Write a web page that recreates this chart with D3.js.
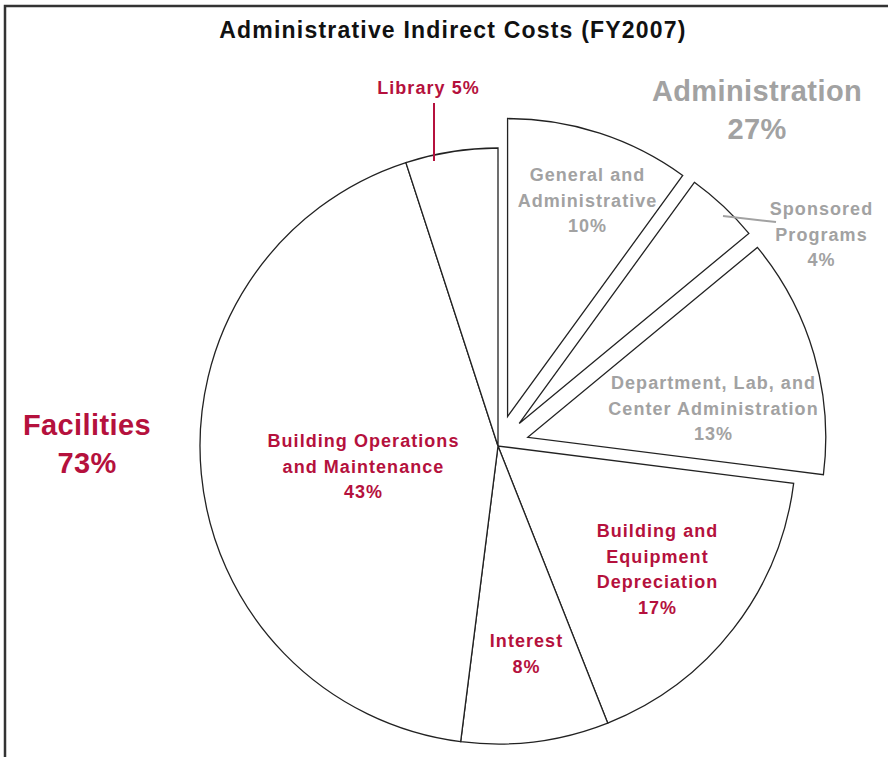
<!DOCTYPE html>
<html>
<head>
<meta charset="utf-8">
<script src="https://cdn.jsdelivr.net/npm/d3@7"></script>
<style>
  body { margin: 0; background: #fff; }
  text { font-family: "Liberation Sans", Arial, Helvetica, sans-serif; font-weight: bold; }
</style>
</head>
<body>
<script>
// slices, clockwise from 12 o'clock
var names = ["General and Administrative", "Sponsored Programs", "Department, Lab, and Center Administration",
             "Building and Equipment Depreciation", "Interest", "Building Operations and Maintenance", "Library"];
var values = [10, 4, 13, 17, 8, 43, 5];
var groups = ["admin", "admin", "admin", "fac", "fac", "fac", "fac"];
// label lines for each slice
var labelLines = [
  ["General and", "Administrative", "10%"],
  ["Sponsored", "Programs", "4%"],
  ["Department, Lab, and", "Center Administration", "13%"],
  ["Building and", "Equipment", "Depreciation", "17%"],
  ["Interest", "8%"],
  ["Building Operations", "and Maintenance", "43%"],
  ["Library 5%"]
];
var groupTitles = [["Administration", "27%"], ["Facilities", "73%"]];

// layout
var width = 888, height = 757;
var cx = 498, cy = 446, radius = 298;
var explode = 31;
var red = "#b5113d", gray = "#a2a2a2";
// label anchor (x, first baseline y) per slice
var labelPos = [[587, 181], [821, 215], [713, 389], [657, 537], [526, 647], [363, 447], [428, 94]];
var groupPos = [[757, 101], [87, 435]];
var groupColor = { admin: gray, fac: red };

var svg = d3.select("body").append("svg")
  .attr("width", width)
  .attr("height", height);

// frame
svg.append("path")
  .attr("d", "M5,757 L5,6 L888,6")
  .attr("fill", "none")
  .attr("stroke", "#333")
  .attr("stroke-width", 2.5);

svg.append("text")
  .attr("x", 453).attr("y", 38)
  .attr("text-anchor", "middle")
  .attr("font-size", 23)
  .attr("letter-spacing", 1.2)
  .attr("fill", "#111")
  .text("Administrative Indirect Costs (FY2007)");

var pie = d3.pie().sort(null).value(function(d) { return d; });
var arcs = pie(values);
var arc = d3.arc().innerRadius(0).outerRadius(radius);

var g = svg.append("g").attr("transform", "translate(" + cx + "," + cy + ")");

g.selectAll("path.slice")
  .data(arcs)
  .enter().append("path")
  .attr("class", "slice")
  .attr("d", arc)
  .attr("fill", "#fff")
  .attr("stroke", "#222")
  .attr("stroke-width", 1.3)
  .attr("transform", function(d, i) {
    if (groups[i] != "admin") return null;
    var a = (d.startAngle + d.endAngle) / 2;
    return "translate(" + (Math.sin(a) * explode) + "," + (-Math.cos(a) * explode) + ")";
  });

// leader lines
svg.append("line")
  .attr("x1", 434).attr("y1", 103).attr("x2", 434).attr("y2", 161)
  .attr("stroke", red).attr("stroke-width", 2);
svg.append("line")
  .attr("x1", 723).attr("y1", 216).attr("x2", 776).attr("y2", 222)
  .attr("stroke", gray).attr("stroke-width", 2);

// slice labels
labelLines.forEach(function(lines, i) {
  var t = svg.append("text")
    .attr("text-anchor", "middle")
    .attr("font-size", 18)
    .attr("letter-spacing", 1.05)
    .attr("fill", groupColor[groups[i]]);
  lines.forEach(function(s, j) {
    t.append("tspan")
      .attr("x", labelPos[i][0] + 0.5)
      .attr("y", labelPos[i][1] + j * 25.5)
      .text(s);
  });
});

// group labels
groupTitles.forEach(function(lines, i) {
  var t = svg.append("text")
    .attr("text-anchor", "middle")
    .attr("font-size", 29)
    .attr("letter-spacing", 0.4)
    .attr("fill", i == 0 ? gray : red);
  lines.forEach(function(s, j) {
    t.append("tspan")
      .attr("x", groupPos[i][0])
      .attr("y", groupPos[i][1] + j * 38)
      .text(s);
  });
});
</script>
</body>
</html>
